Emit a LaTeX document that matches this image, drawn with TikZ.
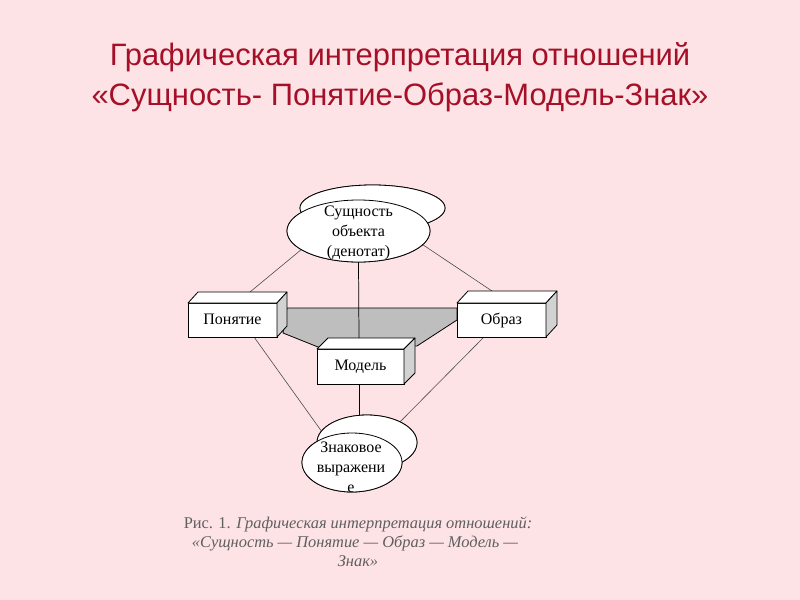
\documentclass[tikz,border=0pt]{standalone}
\usepackage{fontspec}
\setmainfont{Liberation Serif}
\setsansfont{Liberation Sans}
\usetikzlibrary{shapes.geometric,calc}
\definecolor{bg}{RGB}{253,227,229}
\definecolor{ttl}{RGB}{165,16,40}
\definecolor{sidegray}{RGB}{210,210,210}
\definecolor{polygray}{RGB}{190,190,190}
\definecolor{captgray}{RGB}{95,95,95}
\newcommand\boxfaces[3]{%
  \draw[face] (#1.north west) -- ++(#2,#3) -- ($(#1.north east)+(#2,#3)$) -- (#1.north east) -- cycle;
  \draw[side] (#1.north east) -- ++(#2,#3) -- ($(#1.south east)+(#2,#3)$) -- (#1.south east) -- cycle;}
\begin{document}
\begin{tikzpicture}[x=0.75pt,y=-0.75pt,
  boxfront/.style={draw=black, line width=0.6pt, fill=white, rectangle, inner sep=0pt, outer sep=0pt, text height=8pt, text depth=1.5pt, font=\fontsize{12}{14}\selectfont},
  face/.style={draw=black, line width=0.6pt, fill=white, line join=round},
  side/.style={draw=black, line width=0.6pt, fill=sidegray, line join=round},
  ell/.style={draw=black, line width=0.6pt, fill=white, ellipse, inner sep=0pt, outer sep=0pt},
  eltext/.style={align=center, font=\fontsize{12}{15}\selectfont, inner sep=0pt},
  link/.style={draw=black!70, line width=0.45pt},
  vlink/.style={draw=black, line width=0.55pt},
  ttlstyle/.style={text=ttl, font=\sffamily\fontsize{23.2}{30}\selectfont, inner sep=0pt},
  capt/.style={text=captgray, font=\fontsize{12.3}{14}\selectfont, inner sep=0pt},
]
\fill[bg] (0,0) rectangle (800,600);
\useasboundingbox (0,0) rectangle (800,600);

% title
\node[ttlstyle, anchor=base] (t1) at (400,65) {Графическая интерпретация отношений};
\node[ttlstyle, anchor=base] (t2) at (400,105) {«Сущность- Понятие-Образ-Модель-Знак»};

% gray band
\draw[draw=black, line width=0.6pt, fill=polygray, line join=round]
  (287,308) -- (457,308) -- (457,320) -- (417,346) -- (318,347) -- (283,333) -- cycle;

% nodes (positions)
\node[boxfront, minimum width={89*0.75pt}, minimum height={34*0.75pt}] (pon) at (232.5,320) {};
\node[boxfront, minimum width={89*0.75pt}, minimum height={34*0.75pt}] (obr) at (501.5,320) {};
\node[boxfront, minimum width={87*0.75pt}, minimum height={35*0.75pt}] (mod) at (360.5,366.5) {};
\node[ell, minimum width={145*0.75pt}, minimum height={46*0.75pt}] (entb) at (372.5,208) {};
\node[ell, minimum width={143*0.75pt}, minimum height={62*0.75pt}] (ent) at (358.5,231) {};
\node[ell, minimum width={100*0.75pt}, minimum height={55*0.75pt}] (znb) at (367,442.5) {};
\node[ell, minimum width={100*0.75pt}, minimum height={59*0.75pt}] (zn) at (352,462.5) {};

% connectors
\draw[link] (ent.198) -- ($(pon.north west)+(62,-11)$);
\draw[link] (ent.348) -- ($(obr.north west)+(35,-12)$);
\draw[vlink] (ent.south) -- ($(mod.north west)+(42,-11)$);
\draw[vlink] ($(mod.south west)+(42,0)$) coordinate (mv) -- (mv |- znb.center);
\draw[link] ($(pon.south west)+(66,0)$) -- (znb.166);
\draw[link] ($(obr.south west)+(27,0)$) -- (znb.32);

% boxes redrawn on top
\node[boxfront, minimum width={89*0.75pt}, minimum height={34*0.75pt}] (ponF) at (pon) {Понятие};
\boxfaces{ponF}{10}{-11}
\node[boxfront, minimum width={89*0.75pt}, minimum height={34*0.75pt}] (obrF) at (obr) {Образ};
\boxfaces{obrF}{11}{-12}
\node[boxfront, minimum width={87*0.75pt}, minimum height={35*0.75pt}] (modF) at (mod) {Модель};
\boxfaces{modF}{11}{-11}

% ellipses on top
\node[ell, minimum width={145*0.75pt}, minimum height={46*0.75pt}] (entbF) at (entb) {};
\node[ell, minimum width={143*0.75pt}, minimum height={62*0.75pt}] (entF) at (ent) {};
\begin{scope}
  \clip (ent) ellipse [x radius={71*0.75pt}, y radius={30.5*0.75pt}];
  \node[eltext] (entT) at (358.5,233) {Сущность\\объекта\\(денотат)};
\end{scope}
\node[ell, minimum width={100*0.75pt}, minimum height={55*0.75pt}] (znbF) at (znb) {};
\node[ell, minimum width={100*0.75pt}, minimum height={59*0.75pt}] (znF) at (zn) {};
\node[eltext] (znT) at (351,467) {Знаковое\\выражени\\е};

% caption
\node[capt, anchor=base] (c1) at (358,528) {Рис. 1. \textit{Графическая интерпретация отношений:}};
\node[capt, anchor=base] (c2) at (355,547) {\textit{«Сущность — Понятие — Образ — Модель —}};
\node[capt, anchor=base] (c3) at (358,566) {\textit{Знак»}};
\end{tikzpicture}
\end{document}
